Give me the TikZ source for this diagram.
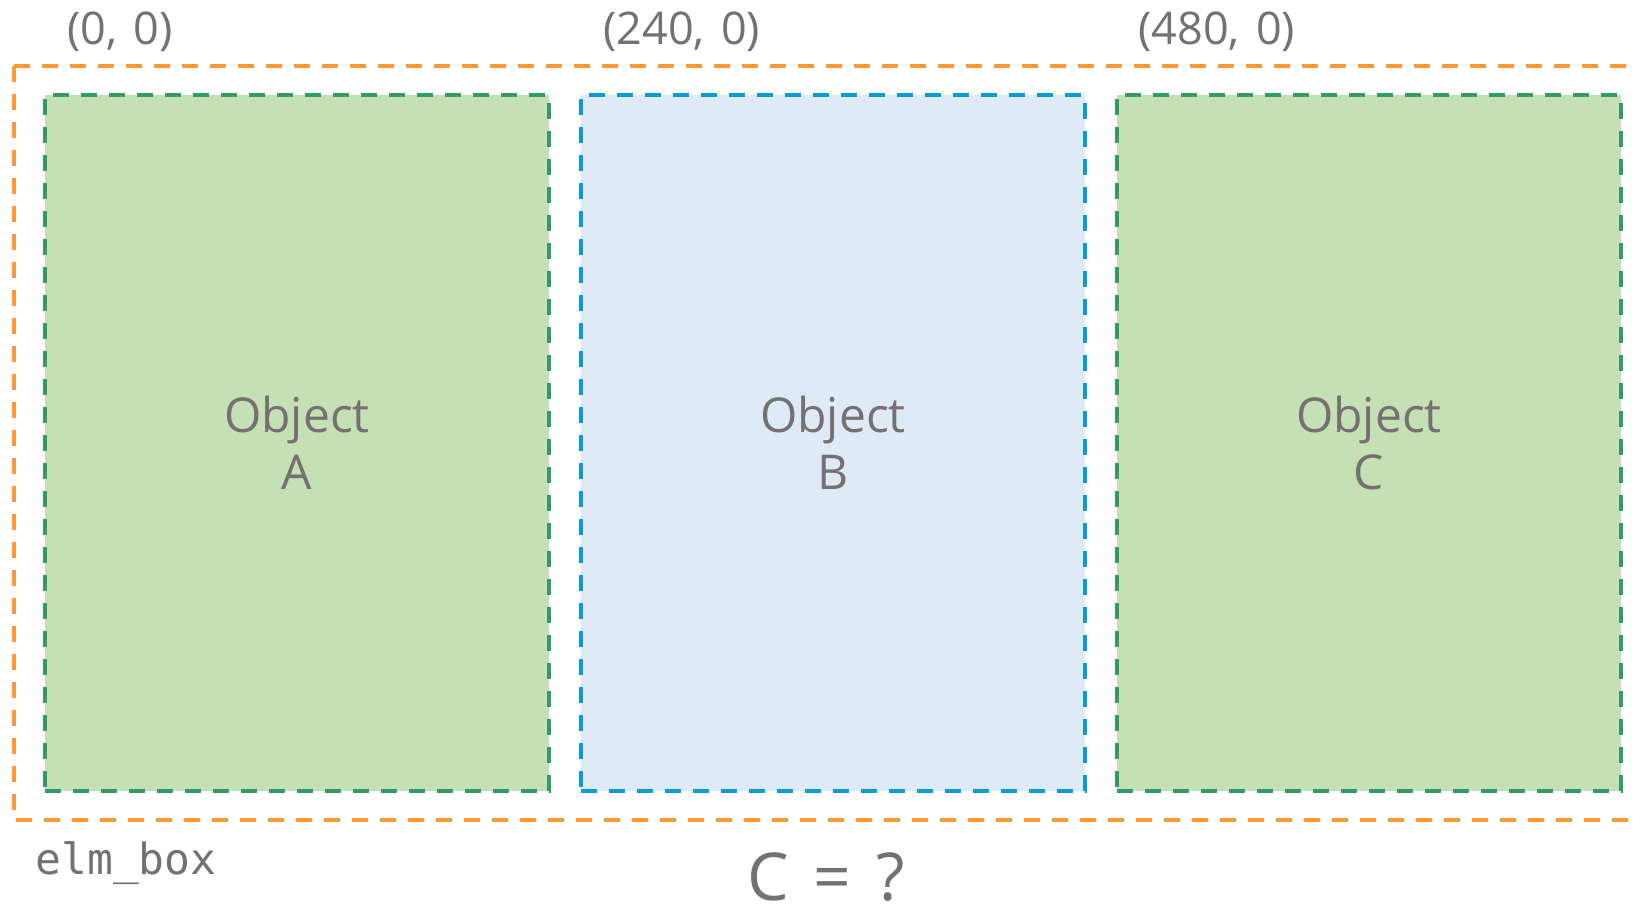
\documentclass[tikz,border=0pt]{standalone}
\usepackage{fontspec}
\setmainfont{Open Sans}
\setmonofont{DejaVu Sans Mono}
\usetikzlibrary{positioning}
\definecolor{txtgray}{HTML}{767171}
\definecolor{boxgreen}{HTML}{C5E0B4}
\definecolor{linegreen}{HTML}{339966}
\definecolor{boxblue}{HTML}{DEEBF7}
\definecolor{lineblue}{HTML}{0B9BD5}
\definecolor{lineorange}{HTML}{FF9933}
\tikzset{
  objbox/.style={draw=linegreen, fill=boxgreen, line width=1.75pt,
    dash pattern=on 8pt off 6pt, minimum width=252pt, minimum height=348pt,
    inner sep=0pt, text=txtgray, align=center,
    font=\fontsize{24}{28.5}\selectfont},
  posnum/.style={anchor=base west, inner sep=0pt, text=txtgray,
    font=\fontsize{22.5}{26}\selectfont}
}

\begin{document}
\begin{tikzpicture}[x=0.5pt,y=-0.5pt]
                \useasboundingbox (0,0) rectangle (1635,913);
                \clip (0,0) rectangle (1635,913);
                % outer box
                \draw[lineorange, line width=2pt, dash pattern=on 8pt off 6pt] (14,66) rectangle (1662,820);
                % objects
                \node[objbox] (objA) at (297,443) {Object\\A};
                \node[objbox, draw=lineblue, fill=boxblue] (objB) at (833,443) {Object\\B};
                \node[objbox] (objC) at (1369,443) {Object\\C};
                % positions
                \node[posnum] (posA) at (67,45) {(0,\hspace{0.36em}0)};
                \node[posnum] (posB) at (603,45) {(240,\hspace{0.36em}0)};
                \node[posnum] (posC) at (1138,45) {(480,\hspace{0.36em}0)};
                \node[anchor=base west, inner sep=0pt, text=txtgray, font=\ttfamily\fontsize{21.5}{24}\selectfont] (elmbox) at (35,875) {elm\_box};
                \node[anchor=base, inner sep=0pt, text=txtgray, font=\fontsize{33}{36}\selectfont] (question) at (826,901) {C\hspace{0.38em}=\hspace{0.38em}?};
\end{tikzpicture}
\end{document}
